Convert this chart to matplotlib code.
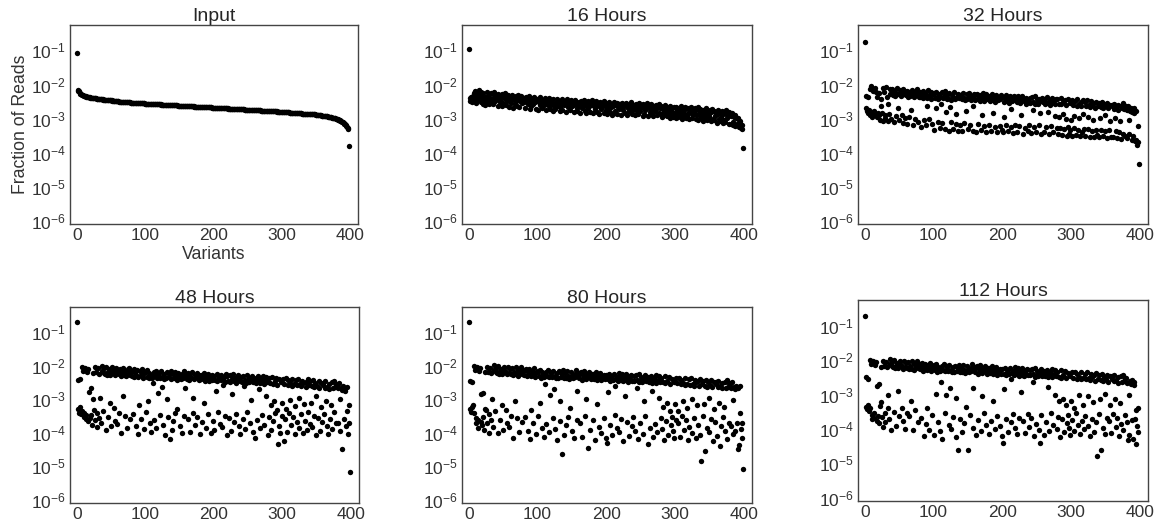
import numpy as np
import matplotlib.pyplot as plt

plt.rcParams['font.family'] = ['Liberation Sans', 'DejaVu Sans']
plt.rcParams['mathtext.fontset'] = 'custom'
plt.rcParams['mathtext.rm'] = 'Liberation Sans'
plt.rcParams['mathtext.it'] = 'Liberation Sans:italic'
plt.rcParams['mathtext.bf'] = 'Liberation Sans:bold'

# Fraction of reads per variant, stored as round(100 * log10(fraction))
# variants are ordered by their abundance in the input library
input_log = [
    -107, -216, -218, -220, -224, -227, -229, -230, -231, -232,
    -233, -234, -234, -235, -236, -236, -237, -237, -238, -238,
    -239, -239, -239, -240, -240, -240, -241, -241, -241, -242,
    -242, -242, -243, -243, -243, -244, -244, -244, -244, -245,
    -245, -245, -245, -246, -246, -246, -246, -247, -247, -247,
    -247, -247, -248, -248, -248, -248, -248, -249, -249, -249,
    -249, -249, -250, -250, -250, -250, -250, -251, -251, -251,
    -251, -251, -251, -252, -252, -252, -252, -252, -252, -253,
    -253, -253, -253, -253, -253, -254, -254, -254, -254, -254,
    -254, -254, -255, -255, -255, -255, -255, -255, -255, -255,
    -256, -256, -256, -256, -256, -256, -256, -256, -257, -257,
    -257, -257, -257, -257, -257, -257, -258, -258, -258, -258,
    -258, -258, -258, -258, -259, -259, -259, -259, -259, -259,
    -259, -259, -260, -260, -260, -260, -260, -260, -260, -260,
    -261, -261, -261, -261, -261, -261, -261, -261, -262, -262,
    -262, -262, -262, -262, -262, -262, -263, -263, -263, -263,
    -263, -263, -263, -263, -264, -264, -264, -264, -264, -264,
    -264, -264, -265, -265, -265, -265, -265, -265, -265, -265,
    -266, -266, -266, -266, -266, -266, -266, -266, -267, -267,
    -267, -267, -267, -267, -267, -267, -267, -267, -268, -268,
    -268, -268, -268, -268, -268, -268, -269, -269, -269, -269,
    -269, -269, -269, -269, -270, -270, -270, -270, -270, -270,
    -270, -270, -271, -271, -271, -271, -271, -271, -271, -271,
    -272, -272, -272, -272, -272, -272, -272, -272, -273, -273,
    -273, -273, -273, -273, -273, -273, -274, -274, -274, -274,
    -274, -274, -274, -274, -275, -275, -275, -275, -275, -275,
    -275, -275, -276, -276, -276, -276, -276, -276, -276, -276,
    -277, -277, -277, -277, -277, -277, -277, -277, -278, -278,
    -278, -278, -278, -278, -278, -278, -279, -279, -279, -279,
    -279, -279, -279, -279, -280, -280, -280, -280, -280, -280,
    -281, -281, -281, -281, -281, -281, -282, -282, -282, -282,
    -282, -282, -283, -283, -283, -283, -283, -283, -284, -284,
    -284, -284, -284, -284, -285, -285, -285, -285, -285, -285,
    -286, -286, -286, -286, -286, -286, -287, -287, -287, -287,
    -287, -287, -288, -288, -288, -288, -288, -288, -288, -288,
    -289, -289, -289, -290, -290, -290, -291, -291, -291, -292,
    -292, -292, -293, -293, -293, -294, -294, -294, -295, -295,
    -295, -296, -296, -296, -297, -297, -298, -298, -299, -299,
    -300, -301, -302, -303, -304, -305, -306, -307, -309, -310,
    -311, -313, -315, -317, -319, -322, -325, -328, -332, -381,
]

h16_log = [
    -96, -240, -248, -236, -251, -244, -233, -226, -249, -218,
    -238, -253, -229, -245, -235, -215, -231, -252, -221, -241,
    -224, -256, -244, -237, -259, -248, -221, -241, -233, -258,
    -246, -239, -226, -252, -243, -257, -231, -222, -249, -238,
    -230, -243, -262, -227, -239, -250, -245, -233, -264, -228,
    -255, -241, -236, -226, -261, -244, -248, -232, -240, -265,
    -236, -253, -247, -231, -243, -268, -238, -257, -249, -233,
    -262, -245, -230, -266, -241, -248, -235, -254, -244, -239,
    -240, -251, -270, -236, -247, -243, -258, -253, -235, -272,
    -246, -262, -249, -241, -256, -238, -252, -245, -273, -242,
    -243, -274, -251, -238, -260, -255, -245, -270, -249, -259,
    -253, -240, -256, -276, -246, -252, -263, -239, -271, -250,
    -246, -257, -278, -243, -264, -253, -272, -259, -242, -262,
    -255, -248, -279, -266, -258, -244, -274, -252, -257, -261,
    -249, -280, -256, -244, -266, -260, -251, -275, -247, -258,
    -264, -254, -261, -281, -245, -257, -250, -269, -277, -253,
    -251, -262, -283, -248, -258, -268, -254, -263, -247, -278,
    -284, -256, -260, -270, -249, -264, -281, -253, -259, -246,
    -285, -252, -262, -271, -258, -249, -280, -264, -255, -287,
    -260, -251, -273, -266, -254, -259, -283, -248, -263, -276,
    -255, -286, -264, -274, -252, -261, -282, -266, -257, -290,
    -262, -250, -277, -285, -259, -253, -288, -265, -256, -272,
    -257, -267, -289, -254, -262, -276, -259, -284, -264, -253,
    -291, -260, -268, -279, -256, -263, -251, -287, -265, -274,
    -259, -269, -291, -256, -279, -265, -288, -270, -255, -278,
    -264, -260, -267, -293, -258, -286, -271, -276, -262, -254,
    -292, -261, -270, -280, -266, -257, -288, -272, -294, -263,
    -268, -278, -259, -271, -290, -264, -283, -256, -269, -286,
    -264, -296, -273, -283, -290, -260, -271, -281, -294, -266,
    -286, -275, -262, -297, -289, -270, -280, -295, -267, -284,
    -288, -266, -298, -276, -284, -296, -269, -292, -274, -263,
    -300, -285, -277, -289, -265, -273, -297, -270, -293, -283,
    -270, -302, -279, -266, -288, -297, -276, -286, -281, -268,
    -300, -273, -291, -303, -265, -278, -289, -272, -299, -280,
    -274, -306, -295, -283, -291, -270, -280, -303, -285, -296,
    -292, -276, -308, -282, -271, -300, -305, -279, -294, -286,
    -280, -312, -287, -275, -300, -308, -285, -297, -289, -278,
    -313, -303, -283, -309, -276, -290, -299, -286, -281, -315,
    -288, -317, -294, -285, -310, -320, -296, -290, -322, -299,
    -315, -302, -297, -325, -312, -308, -328, -318, -332, -388,
]

h32_log = [
    -75, -270, -233, -278, -237, -285, -276, -213, -290, -205,
    -281, -295, -219, -287, -279, -209, -222, -296, -236, -284,
    -226, -289, -303, -242, -262, -284, -211, -306, -223, -291,
    -299, -208, -237, -307, -257, -286, -229, -214, -300, -220,
    -214, -230, -311, -219, -233, -292, -225, -211, -268, -228,
    -305, -216, -234, -221, -289, -212, -312, -227, -218, -298,
    -230, -316, -219, -237, -223, -296, -233, -275, -215, -228,
    -318, -224, -236, -300, -220, -231, -214, -309, -227, -238,
    -222, -237, -324, -226, -240, -218, -304, -233, -225, -320,
    -239, -262, -217, -231, -300, -236, -221, -242, -315, -228,
    -226, -333, -240, -221, -270, -236, -244, -310, -229, -328,
    -237, -256, -223, -314, -241, -234, -331, -220, -282, -243,
    -228, -241, -336, -225, -265, -245, -311, -231, -238, -330,
    -222, -243, -288, -316, -236, -227, -338, -240, -230, -319,
    -231, -338, -244, -225, -313, -239, -247, -278, -229, -242,
    -332, -236, -224, -319, -246, -233, -240, -336, -263, -228,
    -232, -246, -340, -228, -243, -316, -237, -249, -230, -334,
    -291, -241, -226, -321, -248, -235, -339, -229, -244, -238,
    -318, -234, -249, -337, -243, -229, -283, -246, -238, -326,
    -251, -232, -341, -241, -247, -236, -322, -244, -231, -335,
    -236, -340, -251, -295, -240, -231, -319, -248, -244, -336,
    -253, -235, -326, -272, -249, -241, -343, -233, -246, -320,
    -238, -252, -340, -235, -247, -322, -254, -289, -241, -233,
    -344, -249, -243, -327, -256, -239, -246, -336, -251, -318,
    -240, -255, -343, -237, -276, -250, -324, -257, -235, -339,
    -253, -244, -258, -320, -242, -285, -249, -345, -239, -252,
    -341, -242, -257, -325, -251, -237, -281, -254, -346, -245,
    -260, -322, -239, -253, -340, -247, -294, -258, -243, -328,
    -244, -346, -258, -296, -327, -240, -256, -349, -287, -252,
    -331, -247, -261, -301, -350, -243, -325, -344, -255, -333,
    -305, -246, -351, -260, -329, -292, -249, -347, -263, -244,
    -334, -298, -257, -352, -251, -262, -341, -245, -286, -330,
    -250, -352, -264, -247, -296, -331, -259, -354, -266, -249,
    -336, -261, -303, -355, -253, -268, -334, -251, -349, -262,
    -254, -355, -299, -266, -333, -251, -268, -350, -257, -291,
    -338, -263, -357, -255, -270, -334, -306, -259, -353, -264,
    -259, -355, -272, -256, -297, -336, -268, -357, -261, -274,
    -339, -308, -263, -359, -270, -255, -345, -273, -262, -352,
    -264, -358, -276, -262, -345, -305, -279, -268, -362, -281,
    -350, -270, -283, -366, -362, -277, -378, -322, -369, -434,
]

h48_log = [
    -69, -328, -242, -340, -240, -322, -345, -203, -336, -215,
    -352, -341, -206, -360, -348, -218, -210, -366, -279, -355,
    -266, -348, -378, -222, -300, -333, -204, -363, -219, -342,
    -384, -207, -226, -356, -295, -370, -216, -201, -336, -223,
    -208, -224, -391, -203, -227, -354, -219, -211, -312, -228,
    -381, -205, -221, -217, -327, -229, -364, -206, -223, -373,
    -212, -342, -226, -209, -231, -401, -221, -290, -207, -229,
    -349, -216, -232, -387, -211, -224, -206, -360, -227, -218,
    -215, -230, -343, -211, -234, -219, -381, -227, -213, -403,
    -233, -318, -217, -228, -358, -210, -225, -236, -389, -220,
    -218, -339, -233, -214, -305, -238, -222, -372, -229, -398,
    -236, -252, -220, -362, -232, -215, -385, -237, -282, -224,
    -221, -236, -347, -217, -264, -233, -376, -240, -224, -406,
    -238, -219, -298, -354, -235, -226, -418, -216, -239, -393,
    -224, -365, -238, -218, -342, -233, -242, -330, -221, -236,
    -380, -229, -240, -400, -226, -237, -215, -351, -268, -231,
    -225, -239, -360, -221, -244, -397, -230, -236, -219, -341,
    -296, -241, -228, -378, -234, -222, -352, -237, -243, -227,
    -405, -228, -241, -369, -237, -222, -310, -245, -231, -387,
    -240, -225, -345, -246, -233, -238, -401, -229, -243, -364,
    -230, -391, -243, -276, -226, -247, -337, -238, -233, -374,
    -244, -227, -383, -258, -241, -235, -349, -248, -224, -408,
    -232, -245, -356, -228, -249, -394, -240, -284, -226, -246,
    -367, -236, -251, -343, -234, -243, -229, -381, -247, -403,
    -234, -248, -358, -230, -262, -244, -389, -252, -228, -339,
    -246, -237, -250, -372, -242, -301, -231, -398, -249, -239,
    -415, -236, -251, -362, -245, -232, -271, -253, -385, -239,
    -248, -347, -230, -254, -376, -244, -292, -233, -250, -406,
    -238, -354, -252, -318, -393, -234, -255, -365, -305, -247,
    -342, -236, -257, -332, -433, -241, -380, -400, -250, -351,
    -312, -240, -425, -255, -360, -330, -238, -397, -258, -244,
    -341, -301, -253, -378, -260, -239, -352, -256, -320, -405,
    -243, -369, -259, -240, -296, -387, -256, -345, -262, -245,
    -401, -252, -315, -364, -248, -264, -391, -241, -337, -258,
    -247, -374, -311, -262, -383, -244, -265, -349, -252, -290,
    -408, -260, -356, -246, -267, -394, -324, -251, -367, -258,
    -251, -343, -266, -247, -305, -381, -263, -403, -254, -270,
    -358, -318, -250, -389, -268, -246, -339, -265, -255, -372,
    -258, -372, -268, -252, -395, -298, -266, -273, -450, -262,
    -360, -270, -276, -380, -335, -264, -405, -371, -318, -517,
]

h80_log = [
    -71, -330, -245, -338, -248, -322, -318, -200, -342, -212,
    -355, -372, -205, -362, -385, -215, -207, -368, -284, -378,
    -283, -352, -393, -220, -330, -331, -203, -372, -218, -343,
    -401, -206, -222, -362, -298, -382, -213, -199, -335, -219,
    -206, -222, -402, -202, -225, -361, -217, -209, -318, -224,
    -391, -204, -219, -215, -332, -226, -372, -205, -221, -382,
    -210, -350, -224, -206, -228, -415, -219, -305, -204, -226,
    -357, -213, -230, -399, -209, -222, -203, -369, -225, -216,
    -213, -228, -353, -209, -232, -217, -395, -225, -211, -419,
    -231, -332, -215, -226, -370, -208, -223, -234, -404, -218,
    -216, -349, -231, -212, -310, -236, -220, -385, -227, -414,
    -234, -255, -218, -374, -230, -213, -399, -235, -288, -222,
    -219, -234, -357, -215, -270, -231, -389, -238, -222, -422,
    -236, -217, -305, -365, -233, -224, -462, -214, -237, -408,
    -222, -377, -236, -216, -352, -231, -240, -325, -219, -234,
    -394, -227, -238, -416, -224, -235, -213, -362, -275, -229,
    -223, -237, -372, -219, -242, -413, -228, -234, -217, -351,
    -300, -239, -226, -447, -232, -220, -392, -235, -241, -225,
    -363, -226, -239, -421, -235, -220, -315, -243, -229, -382,
    -238, -223, -401, -244, -231, -236, -355, -227, -241, -417,
    -228, -430, -241, -280, -224, -245, -376, -236, -231, -406,
    -242, -225, -347, -262, -239, -233, -387, -246, -222, -397,
    -230, -243, -360, -226, -247, -425, -238, -290, -224, -244,
    -367, -234, -249, -409, -232, -241, -227, -379, -245, -353,
    -232, -246, -395, -228, -268, -242, -419, -250, -226, -370,
    -244, -235, -248, -404, -240, -306, -229, -349, -247, -237,
    -435, -234, -249, -385, -243, -230, -276, -251, -414, -237,
    -246, -374, -228, -252, -399, -242, -296, -231, -248, -357,
    -236, -389, -250, -322, -422, -232, -253, -365, -310, -245,
    -408, -234, -255, -335, -377, -239, -352, -394, -248, -416,
    -315, -238, -362, -253, -372, -335, -236, -413, -256, -242,
    -351, -305, -251, -392, -258, -237, -363, -254, -325, -421,
    -241, -382, -257, -238, -300, -401, -254, -355, -260, -243,
    -417, -250, -318, -376, -246, -262, -406, -239, -483, -256,
    -245, -350, -315, -260, -455, -242, -263, -387, -250, -295,
    -397, -258, -360, -244, -265, -425, -328, -249, -367, -256,
    -249, -409, -264, -245, -310, -440, -261, -379, -252, -268,
    -353, -322, -248, -395, -266, -244, -419, -263, -253, -370,
    -254, -380, -268, -250, -405, -302, -264, -271, -395, -260,
    -372, -266, -449, -438, -340, -262, -390, -415, -371, -508,
]

# last variant has no reads at 112 hours, so one value fewer
h112_log = [
    -71, -335, -250, -342, -254, -330, -348, -199, -338, -210,
    -360, -372, -204, -355, -368, -214, -206, -378, -275, -362,
    -268, -384, -332, -219, -322, -365, -202, -394, -217, -354,
    -380, -205, -221, -339, -302, -370, -212, -198, -402, -218,
    -205, -221, -352, -201, -224, -393, -216, -208, -290, -223,
    -363, -203, -218, -214, -340, -225, -378, -204, -220, -400,
    -209, -354, -223, -205, -227, -363, -218, -318, -203, -225,
    -402, -212, -229, -344, -208, -221, -202, -381, -224, -215,
    -212, -227, -368, -208, -231, -216, -421, -224, -210, -385,
    -230, -340, -214, -225, -403, -207, -222, -233, -361, -217,
    -215, -417, -229, -211, -298, -234, -219, -380, -226, -407,
    -232, -265, -217, -430, -228, -212, -353, -233, -300, -221,
    -218, -232, -390, -214, -282, -229, -399, -236, -221, -365,
    -234, -216, -310, -424, -231, -223, -460, -213, -235, -372,
    -220, -410, -234, -215, -383, -229, -238, -335, -218, -232,
    -462, -226, -236, -359, -222, -233, -212, -397, -280, -227,
    -221, -235, -419, -217, -240, -374, -226, -232, -215, -405,
    -305, -237, -224, -355, -230, -218, -388, -233, -239, -222,
    -414, -224, -237, -378, -233, -218, -318, -241, -227, -401,
    -236, -221, -363, -242, -229, -234, -392, -225, -239, -422,
    -226, -440, -239, -285, -222, -243, -370, -234, -229, -409,
    -240, -223, -381, -255, -237, -231, -358, -244, -220, -396,
    -228, -241, -416, -224, -245, -367, -236, -292, -222, -242,
    -376, -232, -247, -413, -230, -239, -225, -357, -243, -394,
    -230, -244, -368, -226, -265, -240, -421, -248, -224, -385,
    -242, -233, -246, -403, -238, -440, -227, -361, -245, -235,
    -417, -232, -247, -380, -241, -228, -278, -249, -407, -235,
    -244, -353, -226, -250, -390, -240, -300, -229, -246, -399,
    -234, -365, -248, -320, -424, -230, -251, -372, -312, -243,
    -410, -232, -253, -330, -383, -237, -359, -397, -246, -419,
    -318, -236, -374, -251, -405, -338, -234, -355, -254, -240,
    -388, -300, -249, -414, -256, -235, -378, -252, -330, -401,
    -239, -363, -255, -236, -305, -392, -252, -422, -258, -241,
    -370, -248, -322, -409, -244, -260, -381, -237, -480, -254,
    -243, -358, -312, -258, -460, -240, -261, -396, -248, -298,
    -416, -256, -367, -242, -263, -376, -330, -247, -413, -254,
    -247, -357, -262, -243, -312, -394, -259, -368, -250, -266,
    -421, -325, -246, -385, -264, -242, -403, -261, -251, -361,
    -252, -380, -266, -432, -418, -300, -262, -269, -375, -258,
    -428, -264, -271, -372, -345, -445, -392, -410, -338,
]

titles = ['Input', '16 Hours', '32 Hours', '48 Hours', '80 Hours', '112 Hours']
series = [input_log, h16_log, h32_log, h48_log, h80_log, h112_log]

# axes boxes in figure fractions (left, bottom, width, height)
boxes = [
    [0.0602, 0.5766, 0.2476, 0.3762],
    [0.3972, 0.5766, 0.2494, 0.3762],
    [0.7377, 0.5766, 0.2494, 0.3762],
    [0.0602, 0.0491, 0.2484, 0.3705],
    [0.3972, 0.0491, 0.2494, 0.3705],
    [0.7377, 0.0529, 0.2494, 0.3800],
]

fig = plt.figure(figsize=(11.63, 5.29), dpi=100)

for title, vals, box in zip(titles, series, boxes):
    ax = fig.add_axes(box)
    y = 10.0 ** (np.array(vals) / 100.0)
    x = np.arange(len(y))
    ax.scatter(x, y, s=15, c='black', linewidths=0)
    ax.set_yscale('log')
    ax.set_ylim(8e-7, 0.56)
    ax.set_xlim(-10, 412)
    ax.set_xticks([0, 100, 200, 300, 400])
    ax.set_yticks([1e-6, 1e-5, 1e-4, 1e-3, 1e-2, 1e-1])
    ax.set_title(title, fontsize=14, color='#262626', pad=2)
    ax.tick_params(which='major', length=0, labelsize=12.5, colors='#333333', pad=3)
    ax.tick_params(which='minor', left=False, right=True, direction='in',
                   length=2, width=0.5, color='#888888')
    for sp in ax.spines.values():
        sp.set_color('#444444')
        sp.set_linewidth(1.0)
    if title == 'Input':
        ax.set_ylabel('Fraction of Reads', fontsize=12.7, color='#333333', labelpad=1)
        ax.set_xlabel('Variants', fontsize=12.7, color='#333333', labelpad=2)

plt.savefig('out.png', dpi=100)
